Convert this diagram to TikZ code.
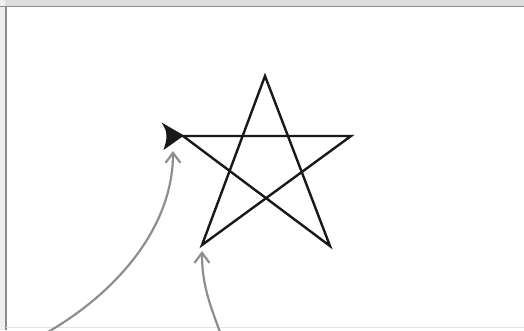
\documentclass[tikz,border=0pt]{standalone}
\usetikzlibrary{arrows.meta}
\definecolor{bandgray}{HTML}{DEDEDE}
\definecolor{edgegray}{HTML}{8C8C8C}
\definecolor{curvegray}{HTML}{8E8E8E}
\definecolor{faintgray}{HTML}{E4E4E4}
\tikzset{
  starline/.style={line width=2.4pt, black!90, line join=miter},
  pointer/.style={line width=2.2pt, curvegray, -{Straight Barb[length=10pt,width=15pt,line width=2.2pt]}},
}
\begin{document}
\begin{tikzpicture}[x=1pt,y=-1pt]
\useasboundingbox (0,0) rectangle (524,330);
\fill[white] (0,0) rectangle (524,330);
% frame
\fill[bandgray] (0,0) rectangle (524,6);
\fill[faintgray!60] (0,0) rectangle (5,330);
\draw[edgegray, line width=1.5pt] (0,6.5) -- (524,6.5);
\draw[edgegray, line width=1.5pt] (6,6.5) -- (6,330);
\draw[faintgray, line width=1pt] (6,327.5) -- (524,327.5);
% star vertices
\coordinate (L) at (183,136);
\coordinate (R) at (351,136);
\coordinate (BL) at (202,245);
\coordinate (T) at (265,76);
\coordinate (BR) at (330,246);
\draw[starline] (L) -- (R) -- (BL) -- (T) -- (BR) -- cycle;
% filled arrowhead at the left vertex
\fill[black!90] (184,135.5) -- (161.5,122.5) .. controls (166,130) .. (166.5,137) .. controls (166,142) .. (163.5,150) -- cycle;
% gray pointers
\coordinate (p1s) at (48,332);
\coordinate (p1e) at (173,151);
\coordinate (p2s) at (220,332);
\coordinate (p2e) at (202,251);
\draw[pointer] (p1s) .. controls (120,290) and (173,225) .. (p1e);
\draw[pointer] (p2s) .. controls (208,300) and (202,282) .. (p2e);
\end{tikzpicture}
\end{document}
